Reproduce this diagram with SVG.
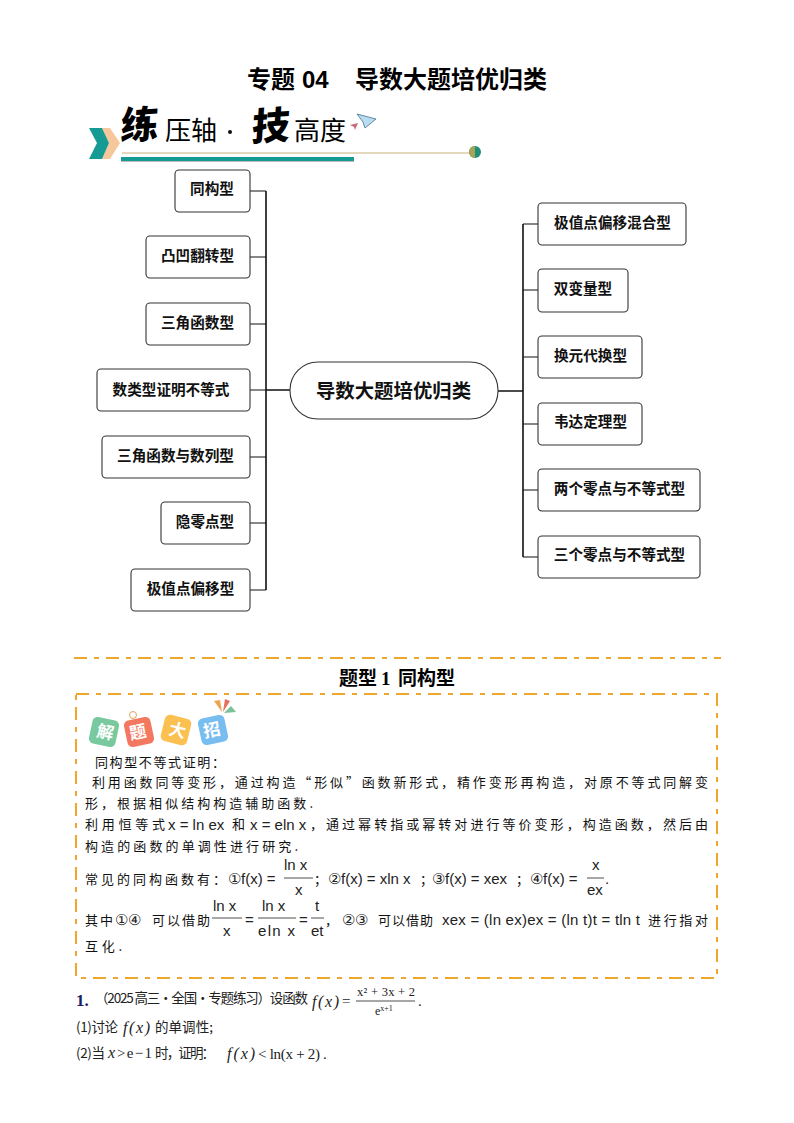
<svg xmlns="http://www.w3.org/2000/svg" width="794" height="1123" viewBox="0 0 794 1123">
<style>
text{font-family:"Noto Sans CJK SC","Liberation Sans",sans-serif;fill:#000}
.n rect{fill:#fff;stroke:#333;stroke-width:1.1}
.n text{font-size:14.6px;font-weight:700;text-anchor:middle;fill:#111}
.c path{stroke:#111;stroke-width:1.6;fill:none}
.c path.thin{stroke-width:1.1}
.b{font-size:13px;fill:#111}
.m{font-family:"Liberation Sans",sans-serif;font-size:15px;fill:#222}
.fr{stroke:#222;stroke-width:.8}
.q{font-size:13.5px;fill:#222}
.v{font-family:"Liberation Serif",serif;font-style:italic;font-size:16px;fill:#222}
.r{font-family:"Liberation Serif",serif;font-size:15px;fill:#222}
.d{stroke:#efa62c;stroke-width:2;stroke-dasharray:13 7 5 7;fill:none}
.t{fill:#fff;font-size:17px;font-weight:700;text-anchor:middle}
</style>
<rect width="794" height="1123" fill="#fff"/>
<g id="title" font-weight="700">
<text x="247" y="88" font-size="24" font-weight="700">专题</text>
<text x="302" y="88" font-size="24" font-weight="700" style="font-family:'Liberation Sans',sans-serif">04</text>
<text x="355" y="88" font-size="24" font-weight="700">导数大题培优归类</text>
</g>

<g id="banner">
<path d="M102 128H110L120 143 110 159H102L109 143Z" fill="#f6c79a"/>
<path d="M89 128H102L109 143 102 159H89L97 143Z" fill="#159a94"/>
<text font-size="38" font-weight="900" transform="translate(120 140) rotate(-4) skewX(-8)">练</text>
<text x="165" y="140" font-size="26">压轴</text>
<circle cx="230" cy="132" r="2" fill="#111"/>
<text font-size="38" font-weight="900" transform="translate(251 141) rotate(-4) skewX(-8)">技</text>
<text x="294" y="140" font-size="26">高度</text>
<path d="M357 114l19 5-11 9-2-6z" fill="#b9dcf0" stroke="#45708f" stroke-width=".8"/>
<path d="M350 125l8-2-3 7-1-3z" fill="#c96a80"/>
<line x1="122" y1="153" x2="470" y2="153" stroke="#c9b27a" stroke-width="1"/>
<rect x="121" y="157" width="233" height="4" fill="#159a94"/>
<rect x="121" y="161" width="233" height="1" fill="#bbb"/>
<circle cx="475" cy="152" r="6" fill="#1f8f7c"/>
<path d="M475 146a6 6 0 0 0 0 12z" fill="#a9a455"/>
</g>

<g id="connectors" class="c">
<path class="thin" d="M250 191H266M250 257H266M250 324H266M250 390H266M250 457H266M250 523H266M250 590H266"/>
<path d="M266 390H290M266 191V590"/>
<path d="M498 391H523M523 224V557"/>
<path class="thin" d="M523 224H538M523 290H538M523 357H538M523 424H538M523 490H538M523 557H538"/>
</g>

<g id="n-l1" class="n"><rect x="175" y="170" width="75" height="42" rx="4"/><text x="212" y="194">同构型</text></g>
<g id="n-l2" class="n"><rect x="146" y="236" width="104" height="42" rx="4"/><text x="197.500" y="261">凸凹翻转型</text></g>
<g id="n-l3" class="n"><rect x="146" y="303" width="104" height="42" rx="4"/><text x="197.500" y="328">三角函数型</text></g>
<g id="n-l4" class="n"><rect x="97" y="369" width="153" height="42" rx="4"/><text x="171" y="395">数类型证明不等式</text></g>
<g id="n-l5" class="n"><rect x="102" y="436" width="148" height="42" rx="4"/><text x="175.500" y="461">三角函数与数列型</text></g>
<g id="n-l6" class="n"><rect x="161" y="502" width="89" height="42" rx="4"/><text x="205" y="527">隐零点型</text></g>
<g id="n-l7" class="n"><rect x="131" y="569" width="119" height="42" rx="4"/><text x="190.500" y="594">极值点偏移型</text></g>

<g id="n-center" class="n"><rect x="290" y="362" width="208" height="57" rx="28"/><text x="393.500" y="398" style="font-size:19.400px">导数大题培优归类</text></g>

<g id="n-r1" class="n"><rect x="538" y="203" width="148" height="42" rx="4"/><text x="612.500" y="228">极值点偏移混合型</text></g>
<g id="n-r2" class="n"><rect x="538" y="269" width="90" height="43" rx="4"/><text x="583" y="294">双变量型</text></g>
<g id="n-r3" class="n"><rect x="538" y="336" width="104" height="42" rx="4"/><text x="590.500" y="361">换元代换型</text></g>
<g id="n-r4" class="n"><rect x="538" y="403" width="104" height="42" rx="4"/><text x="590.500" y="427">韦达定理型</text></g>
<g id="n-r5" class="n"><rect x="538" y="469" width="162" height="42" rx="4"/><text x="619.500" y="494">两个零点与不等式型</text></g>
<g id="n-r6" class="n"><rect x="538" y="536" width="162" height="42" rx="4"/><text x="619.500" y="560">三个零点与不等式型</text></g>

<line class="d" x1="74" y1="658" x2="721" y2="658"/>
<g id="heading">
<text x="339" y="685" font-size="19" font-weight="700">题型</text>
<text x="381" y="685" font-size="19" font-weight="700" style="font-family:'Liberation Serif',serif">1</text>
<text x="398" y="685" font-size="19" font-weight="700">同构型</text>
</g>
<rect class="d" x="76" y="694" width="641" height="284"/>

<g id="badge">
<rect x="90.500" y="718.500" width="27" height="27" rx="5" fill="#78c99d" transform="rotate(12 104 732)"/>
<rect x="125.500" y="718.500" width="27" height="27" rx="5" fill="#f2795f" transform="rotate(-12 139 732)"/>
<circle cx="133" cy="715" r="3.500" fill="none" stroke="#e8a35a"/>
<rect x="162.500" y="716.500" width="27" height="27" rx="5" fill="#fbc050" transform="rotate(14 176 730)"/>
<rect x="199.500" y="716.500" width="27" height="27" rx="5" fill="#78bdf0" transform="rotate(-12 213 730)"/>
<text class="t" transform="translate(104 738) rotate(12)">解</text><text class="t" transform="translate(139 738) rotate(-12)">题</text><text class="t" transform="translate(176 736) rotate(14)">大</text><text class="t" transform="translate(213 736) rotate(-12)">招</text>
<path d="M222 712l-8-11 6-1z" fill="#efa34f"/><path d="M223 712l2-13 5 2z" fill="#e8705f"/><path d="M224 713l7-7 5 6z" fill="#7cc09a"/>
</g>

<g id="tip">
<text class="b" x="95" y="767" textLength="130">同构型不等式证明：</text>
<text class="b" x="92" y="787" textLength="616">利用函数同等变形，通过构造“形似”函数新形式，精作变形再构造，对原不等式同解变</text>
<text class="b" x="85" y="808" textLength="228">形，根据相似结构构造辅助函数.</text>
<text class="b" x="85" y="829" textLength="80">利用恒等式</text>
<text class="m" x="168" y="830">x = ln ex</text>
<text class="b" x="232" y="829">和</text>
<text class="m" x="250" y="830">x = eln x</text>
<text class="b" x="310" y="829" textLength="398">，通过幂转指或幂转对进行等价变形，构造函数，然后由</text>
<text class="b" x="85" y="851" textLength="213">构造的函数的单调性进行研究.</text>

<text class="b" x="85" y="884" textLength="141">常见的同构函数有：</text>
<text class="m" x="228" y="884">①f(x) =</text>
<text class="m" x="284" y="870">ln  x</text><line class="fr" x1="284" y1="878" x2="313" y2="878"/><text class="m" x="295" y="895">x</text>
<text class="b" x="314" y="884">；</text>
<text class="m" x="328" y="884">②f(x) = xln x</text>
<text class="b" x="420" y="884">；</text>
<text class="m" x="432" y="884">③f(x) = xex</text>
<text class="b" x="516" y="884">；</text>
<text class="m" x="530" y="884">④f(x) =</text>
<text class="m" x="592" y="870">x</text><line class="fr" x1="587" y1="878" x2="604" y2="878"/><text class="m" x="587" y="895">ex</text>
<text class="m" x="605" y="884">.</text>

<text class="b" x="85" y="925" textLength="28">其中</text>
<text class="m" x="115" y="925">①④</text>
<text class="b" x="152" y="925" textLength="58">可以借助</text>
<text class="m" x="213" y="911">ln  x</text><line class="fr" x1="212" y1="918" x2="242" y2="918"/><text class="m" x="223" y="936">x</text>
<text class="m" x="245" y="925">=</text>
<text class="m" x="262" y="911">ln  x</text><line class="fr" x1="258" y1="918" x2="296" y2="918"/><text class="m" x="258" y="936" textLength="37">eln  x</text>
<text class="m" x="299" y="925">=</text>
<text class="m" x="315" y="911">t</text><line class="fr" x1="311" y1="918" x2="324" y2="918"/><text class="m" x="311" y="936">et</text>
<text class="b" x="325" y="925">，</text>
<text class="m" x="342" y="925">②③</text>
<text class="b" x="378" y="925" textLength="55">可以借助</text>
<text class="m" x="442" y="925" textLength="198">xex = (ln ex)ex = (ln t)t = tln t</text>
<text class="b" x="648" y="925" textLength="60">进行指对</text>
<text class="b" x="85" y="951" textLength="37">互化.</text>
</g>

<g id="question">
<text x="76" y="1006" font-size="17" font-weight="700" style="font-family:'Liberation Serif',serif;fill:#1a2060">1.</text>
<text class="q" x="95" y="1003" textLength="213">（2025 高三·全国·专题练习）设函数</text>
<text class="v" x="312" y="1007" textLength="27">f(x)</text>
<text class="r" x="342" y="1006">=</text>
<text class="r" x="357" y="996" style="font-size:12.500px" textLength="58">x² + 3x + 2</text>
<line class="fr" x1="356" y1="1001" x2="415" y2="1001"/>
<text class="r" x="375" y="1015" style="font-size:12px">e<tspan dy="-4" style="font-size:8px">x+1</tspan></text>
<text class="r" x="418" y="1006">.</text>
<text class="q" x="76" y="1032" textLength="42">(1)讨论</text>
<text class="v" x="123" y="1033" textLength="27">f(x)</text>
<text class="q" x="155" y="1032" textLength="58">的单调性;</text>
<text class="q" x="76" y="1058" textLength="29">(2)当</text>
<text class="v" x="108" y="1058">x</text><text class="r" x="117" y="1058" textLength="35">&gt; e − 1</text>
<text class="q" x="155" y="1058" textLength="60">时，证明：</text>
<text class="v" x="227" y="1059" textLength="28">f(x)</text>
<text class="r" x="258" y="1059" textLength="62">&lt; ln(x + 2)</text>
<text class="r" x="323" y="1059">.</text>
</g>
</svg>
